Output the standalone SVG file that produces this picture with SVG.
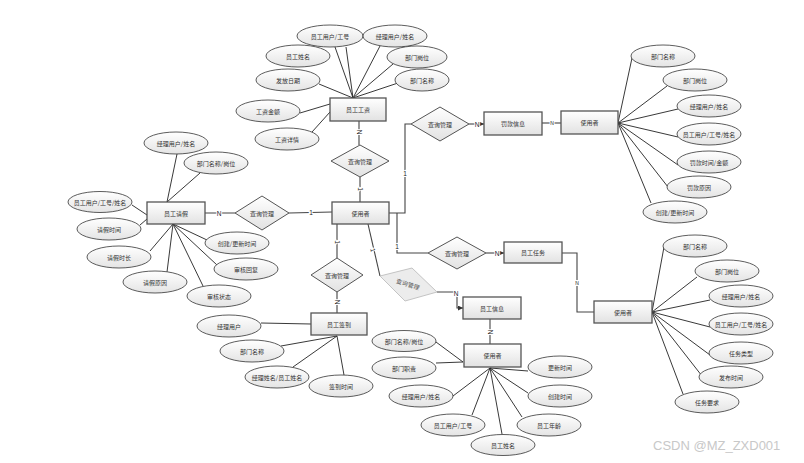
<svg xmlns="http://www.w3.org/2000/svg" width="804" height="463" viewBox="0 0 804 463">
<defs>
<linearGradient id="ge" x1="0" y1="0" x2="0" y2="1"><stop offset="0" stop-color="#ffffff"/><stop offset="1" stop-color="#e4e4e4"/></linearGradient>
<linearGradient id="gb" x1="0" y1="0" x2="0" y2="1"><stop offset="0" stop-color="#ffffff"/><stop offset="1" stop-color="#e2e2e2"/></linearGradient>
<marker id="ar" viewBox="0 0 6 6" refX="6" refY="3" markerWidth="5" markerHeight="5" orient="auto" markerUnits="userSpaceOnUse"><path d="M0,0 L6,3 L0,6 z" fill="#333"/></marker>
<style>
.e{fill:url(#ge);stroke:#333;stroke-width:0.8}
.b{fill:url(#gb);stroke:#555;stroke-width:1.3}
.d{fill:url(#gb);stroke:#555;stroke-width:1}
.t{font-family:"Noto Sans CJK SC","Noto Sans",sans-serif;font-size:6px;fill:#333;text-anchor:middle;dominant-baseline:central}
.l{stroke:#222;stroke-width:0.9;fill:none}
.c{stroke:#444;stroke-width:1.1;fill:none}
.n{font-family:"Liberation Sans",sans-serif;font-size:6.5px;fill:#222;text-anchor:middle;dominant-baseline:central;stroke:#fff;stroke-width:2;paint-order:stroke}
</style>
</defs>
<rect width="804" height="463" fill="#fff"/>

<g id="connectors">
<!-- 员工工资 attributes -->
<path class="l" d="M353,98 L335,47 M353,98 L346,47 M353,98 L380,46 M353,98 L393,64 M353,98 L398,83 M353,98 L319,84 M300,113 L330,104 M312,132 L330,112"/>
<path class="c" d="M359,121 L359,145 M360,177 L360,202"/>
<!-- 员工请假 -->
<path class="l" d="M177,154 L167,202 M200,173 L167,202 M132,205 L147,215 M140,225 L147,219 M173,224 L150,251 M173,224 L167,272 M173,224 L203,286 M173,224 L217,265 M173,224 L207,240"/>
<path class="c" d="M205,213 L235,213 M289,213 L332,212"/>
<!-- top right chain -->
<path class="c" d="M389,213 L405,213 L405,124 L411,124"/>
<path class="c" d="M469,124 L484,124" marker-end="url(#ar)"/>
<path class="c" d="M542,123 L561,123"/>
<path class="l" d="M618,123 L632,58 M618,123 L667,86 M618,123 L678,109 M618,123 L678,137 M618,123 L678,165 M618,123 L668,187 M618,123 L651,203"/>
<!-- lower right chain -->
<path class="c" d="M397,213 L397,253 L428,253"/>
<path class="c" d="M486,253 L504,253" marker-end="url(#ar)"/>
<path class="c" d="M562,253 L577,253 L577,312 L594,312"/>
<path class="l" d="M652,312 L664,247 M652,312 L697,277 M652,312 L710,300 M652,312 L710,327 M652,312 L710,355 M652,312 L702,376 M652,312 L683,394"/>
<!-- 员工签到 -->
<path class="c" d="M337,224 L337,258 M337,292 L337,313"/>
<path class="l" d="M261,323 L311,324 M337,336 L281,346 M337,336 L293,367 M337,336 L344,375"/>
<!-- 员工信息 -->
<path class="c" d="M368,224 L380,276"/>
<path class="c" d="M437,292 L457,292 L457,308 L463,308" marker-end="url(#ar)"/>
<path class="c" d="M490,319 L490,344"/>
<path class="l" d="M436,342 L463,362 M436,363 L463,362 M490,368 L453,396 M490,368 L472,415 M490,368 L502,434 M490,368 L522,417 M490,368 L528,393 M490,368 L528,371"/>
<!-- cardinality labels -->
<text class="n" transform="translate(359,132) rotate(90)">N</text>
<text class="n" transform="translate(360,189) rotate(90)">1</text>
<text class="n" x="219" y="213">N</text>
<text class="n" x="311" y="212">1</text>
<text class="n" x="405" y="173">1</text>
<text class="n" x="477" y="124">N</text>
<text class="n" x="552" y="123" style="font-size:5px">N</text>
<text class="n" x="397" y="246">1</text>
<text class="n" x="497" y="253">N</text>
<text class="n" x="577" y="283" style="font-size:5px">N</text>
<text class="n" transform="translate(337,242) rotate(90)">1</text>
<text class="n" transform="translate(337,302) rotate(90)">N</text>
<text class="n" transform="translate(373,250) rotate(77)">1</text>
<text class="n" x="456" y="293">N</text>
<text class="n" transform="translate(490,332) rotate(90)">N</text>
</g>

<!-- 员工工资 cluster -->
<g id="n-salary"><rect class="b" x="330" y="98" width="56" height="23"/><text class="t" x="358" y="109.5">员工工资</text></g>
<g id="a-s1"><ellipse class="e" cx="330" cy="36" rx="33" ry="11"/><text class="t" x="330" y="36">员工用户/工号</text></g>
<g id="a-s2"><ellipse class="e" cx="395" cy="36" rx="32" ry="11"/><text class="t" x="395" y="36">经理用户/姓名</text></g>
<g id="a-s3"><ellipse class="e" cx="298" cy="56" rx="32" ry="11"/><text class="t" x="298" y="56">员工姓名</text></g>
<g id="a-s4"><ellipse class="e" cx="417" cy="57" rx="30" ry="11"/><text class="t" x="417" y="57">部门岗位</text></g>
<g id="a-s5"><ellipse class="e" cx="288" cy="80" rx="32" ry="11"/><text class="t" x="288" y="80">发放日期</text></g>
<g id="a-s6"><ellipse class="e" cx="422" cy="80" rx="27" ry="11"/><text class="t" x="422" y="80">部门名称</text></g>
<g id="a-s7"><ellipse class="e" cx="268" cy="111" rx="32" ry="11"/><text class="t" x="268" y="111">工资金额</text></g>
<g id="a-s8"><ellipse class="e" cx="287" cy="139" rx="32" ry="11"/><text class="t" x="287" y="139">工资详情</text></g>
<g id="r-salary"><polygon class="d" points="360,145 389,161 360,177 331,161"/><text class="t" x="360" y="161">查询管理</text></g>

<!-- center -->
<g id="n-user"><rect class="b" x="332" y="202" width="57" height="22"/><text class="t" x="360.5" y="213">使用者</text></g>

<!-- 员工请假 cluster -->
<g id="n-leave"><rect class="b" x="147" y="202" width="58" height="22"/><text class="t" x="176" y="213">员工请假</text></g>
<g id="r-leave"><polygon class="d" points="262,196 289,213 262,230 235,213"/><text class="t" x="262" y="213">查询管理</text></g>
<g id="a-l1"><ellipse class="e" cx="176" cy="143" rx="32" ry="11"/><text class="t" x="176" y="143">经理用户/姓名</text></g>
<g id="a-l2"><ellipse class="e" cx="216" cy="163" rx="32" ry="11"/><text class="t" x="216" y="163">部门名称/岗位</text></g>
<g id="a-l3"><ellipse class="e" cx="100" cy="202" rx="32" ry="10.5"/><text class="t" x="100" y="202">员工用户/工号/姓名</text></g>
<g id="a-l4"><ellipse class="e" cx="109" cy="229" rx="32" ry="11"/><text class="t" x="109" y="229">请假时间</text></g>
<g id="a-l5"><ellipse class="e" cx="119" cy="257" rx="32" ry="11"/><text class="t" x="119" y="257">请假时长</text></g>
<g id="a-l6"><ellipse class="e" cx="155" cy="282" rx="32" ry="11"/><text class="t" x="155" y="282">请假原因</text></g>
<g id="a-l7"><ellipse class="e" cx="219" cy="296" rx="32" ry="11"/><text class="t" x="219" y="296">审核状态</text></g>
<g id="a-l8"><ellipse class="e" cx="246" cy="269" rx="32" ry="11"/><text class="t" x="246" y="269">审核回复</text></g>
<g id="a-l9"><ellipse class="e" cx="237" cy="243" rx="32" ry="11"/><text class="t" x="237" y="243">创建/更新时间</text></g>

<!-- 罚款信息 cluster -->
<g id="r-fine"><polygon class="d" points="440,107 469,124 440,141 411,124"/><text class="t" x="440" y="124">查询管理</text></g>
<g id="n-fine"><rect class="b" x="484" y="112" width="58" height="23"/><text class="t" x="513" y="123.5">罚款信息</text></g>
<g id="n-user2"><rect class="b" x="561" y="111" width="57" height="23"/><text class="t" x="589.5" y="122.5">使用者</text></g>
<g id="a-f1"><ellipse class="e" cx="663" cy="56" rx="32" ry="11"/><text class="t" x="663" y="56">部门名称</text></g>
<g id="a-f2"><ellipse class="e" cx="695" cy="80" rx="32" ry="11"/><text class="t" x="695" y="80">部门岗位</text></g>
<g id="a-f3"><ellipse class="e" cx="709" cy="106" rx="32" ry="11"/><text class="t" x="709" y="106">经理用户/姓名</text></g>
<g id="a-f4"><ellipse class="e" cx="709" cy="134" rx="32" ry="11"/><text class="t" x="709" y="134">员工用户/工号/姓名</text></g>
<g id="a-f5"><ellipse class="e" cx="709" cy="162" rx="32" ry="11"/><text class="t" x="709" y="162">罚款时间/金额</text></g>
<g id="a-f6"><ellipse class="e" cx="699" cy="187" rx="32" ry="11"/><text class="t" x="699" y="187">罚款原因</text></g>
<g id="a-f7"><ellipse class="e" cx="675" cy="212" rx="32" ry="11"/><text class="t" x="675" y="212">创建/更新时间</text></g>

<!-- 员工任务 cluster -->
<g id="r-task"><polygon class="d" points="457,237 486,253 457,269 428,253"/><text class="t" x="457" y="253">查询管理</text></g>
<g id="n-task"><rect class="b" x="504" y="242" width="58" height="21"/><text class="t" x="533" y="252.5">员工任务</text></g>
<g id="n-user3"><rect class="b" x="594" y="301" width="58" height="22"/><text class="t" x="623" y="312">使用者</text></g>
<g id="a-t1"><ellipse class="e" cx="695" cy="246" rx="32" ry="11"/><text class="t" x="695" y="246">部门名称</text></g>
<g id="a-t2"><ellipse class="e" cx="727" cy="271" rx="32" ry="11"/><text class="t" x="727" y="271">部门岗位</text></g>
<g id="a-t3"><ellipse class="e" cx="741" cy="296" rx="32" ry="11"/><text class="t" x="741" y="296">经理用户/姓名</text></g>
<g id="a-t4"><ellipse class="e" cx="741" cy="324" rx="32" ry="11"/><text class="t" x="741" y="324">员工用户/工号/姓名</text></g>
<g id="a-t5"><ellipse class="e" cx="741" cy="353" rx="32" ry="11"/><text class="t" x="741" y="353">任务类型</text></g>
<g id="a-t6"><ellipse class="e" cx="731" cy="377" rx="32" ry="11"/><text class="t" x="731" y="377">发布时间</text></g>
<g id="a-t7"><ellipse class="e" cx="707" cy="402" rx="32" ry="11"/><text class="t" x="707" y="402">任务要求</text></g>

<!-- 员工签到 cluster -->
<g id="r-sign"><polygon class="d" points="337,258 363,275 337,292 311,275"/><text class="t" x="337" y="275">查询管理</text></g>
<g id="n-sign"><rect class="b" x="311" y="313" width="56" height="22"/><text class="t" x="339" y="324">员工签到</text></g>
<g id="a-g1"><ellipse class="e" cx="229" cy="326" rx="32" ry="11"/><text class="t" x="229" y="326">经理用户</text></g>
<g id="a-g2"><ellipse class="e" cx="252" cy="351" rx="32" ry="11"/><text class="t" x="252" y="351">部门名称</text></g>
<g id="a-g3"><ellipse class="e" cx="277" cy="377" rx="32" ry="11"/><text class="t" x="277" y="377">经理姓名/员工姓名</text></g>
<g id="a-g4"><ellipse class="e" cx="341" cy="386" rx="32" ry="11"/><text class="t" x="341" y="386">签到时间</text></g>

<!-- 员工信息 cluster -->
<g id="r-info"><polygon points="380,276 412,268 437,292 405,301" fill="#ececec" stroke="#c4c4c4" stroke-width="1"/><text class="t" transform="translate(408,284) rotate(18)" style="fill:#555">查询管理</text></g>
<g id="n-info"><rect class="b" x="463" y="297" width="58" height="22"/><text class="t" x="492" y="308">员工信息</text></g>
<g id="n-user4"><rect class="b" x="464" y="344" width="57" height="23"/><text class="t" x="492.5" y="355.5">使用者</text></g>
<g id="a-i1"><ellipse class="e" cx="404" cy="341" rx="32" ry="10.5"/><text class="t" x="404" y="341">部门名称/岗位</text></g>
<g id="a-i2"><ellipse class="e" cx="404" cy="368" rx="32" ry="11"/><text class="t" x="404" y="368">部门职责</text></g>
<g id="a-i3"><ellipse class="e" cx="421" cy="396" rx="32" ry="11"/><text class="t" x="421" y="396">经理用户/姓名</text></g>
<g id="a-i4"><ellipse class="e" cx="453" cy="425" rx="32" ry="11"/><text class="t" x="453" y="425">员工用户/工号</text></g>
<g id="a-i5"><ellipse class="e" cx="503" cy="445" rx="32" ry="10.5"/><text class="t" x="503" y="445">员工姓名</text></g>
<g id="a-i6"><ellipse class="e" cx="549" cy="425" rx="32" ry="11"/><text class="t" x="549" y="425">员工年龄</text></g>
<g id="a-i7"><ellipse class="e" cx="560" cy="396" rx="32" ry="11"/><text class="t" x="560" y="396">创建时间</text></g>
<g id="a-i8"><ellipse class="e" cx="560" cy="367" rx="32" ry="11"/><text class="t" x="560" y="367">更新时间</text></g>

<text x="653" y="450" font-family="Liberation Sans, sans-serif" font-size="13" fill="#c8c8c8">CSDN @MZ_ZXD001</text>
</svg>
